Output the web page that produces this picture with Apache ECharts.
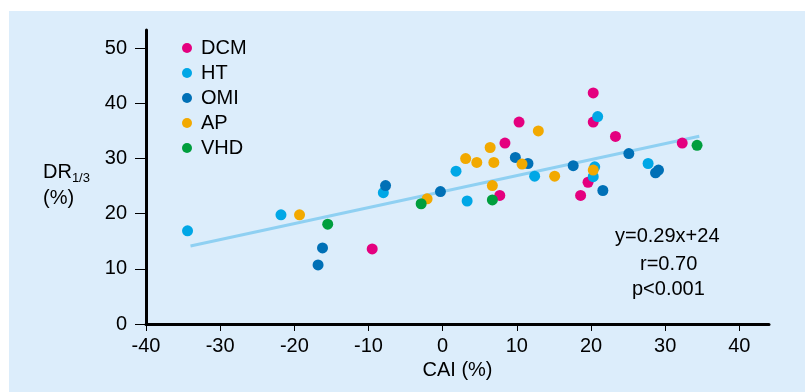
<!DOCTYPE html>
<html>
<head>
<meta charset="utf-8">
<script src="https://cdn.jsdelivr.net/npm/echarts@6/dist/echarts.min.js"></script>
<style>
  html, body { margin: 0; padding: 0; background: #fff; }
  #chart { width: 805px; height: 392px; }
</style>
</head>
<body>
<div id="chart"></div>
<script>
// data: [CAI %, DR1/3 %]
const dcm = [[20.3, 41.9], [20.3, 36.6], [10.3, 36.6], [23.3, 34.0], [8.4, 32.8], [32.3, 32.8],
  [19.6, 25.7], [18.6, 23.3], [7.7, 23.3], [-9.5, 13.6]]
const ht = [[20.9, 37.6], [27.7, 29.1], [20.5, 28.5], [20.3, 26.7], [12.4, 26.8], [1.8, 27.7],
  [3.3, 22.3], [-8.0, 23.8], [-21.8, 19.8], [-34.4, 16.9]]
const omi = [[9.8, 30.2], [11.5, 29.1], [25.1, 30.9], [17.6, 28.7], [29.1, 27.9], [28.7, 27.4],
  [21.6, 24.2], [-0.3, 24.0], [-7.7, 25.1], [-16.2, 13.8], [-16.8, 10.7]]
const ap = [[12.9, 35.0], [6.4, 32.0], [3.1, 30.0], [4.6, 29.3], [6.9, 29.3], [10.7, 29.0],
  [20.3, 27.9], [15.1, 26.8], [6.7, 25.1], [-2.1, 22.7], [-19.3, 19.8]]
const vhd = [[34.3, 32.4], [6.7, 22.5], [-2.9, 21.8], [-15.5, 18.1]]

const seriesNames = ['DCM', 'HT', 'OMI', 'AP', 'VHD']
const seriesColors = ['#e4007f', '#00a7e6', '#0070b6', '#f2a900', '#009e3d']

// regression line y = 0.29x + 24, drawn over the data range
const slope = 0.29
const intercept = 24
const fitX = [-34, 34.6]

const xTicks = [-40, -30, -20, -10, 0, 10, 20, 30, 40]
const yTicks = [0, 10, 20, 30, 40, 50]

const font = 'Liberation Sans, Arial, sans-serif'

const chart = echarts.init(document.getElementById('chart'))

const scatter = [dcm, ht, omi, ap, vhd].map((d, i) => ({
  name: seriesNames[i],
  type: 'scatter',
  data: d,
  symbolSize: 11,
  itemStyle: { color: seriesColors[i], opacity: 1 },
  z: 3
}))

chart.setOption({
  animation: false,
  textStyle: { fontFamily: font },
  graphic: [
    { type: 'rect', z: -10, shape: { x: 9, y: 11, width: 796, height: 381 }, style: { fill: '#dcedfb' } },
    { type: 'text', left: 615, top: 226, style: { text: 'y=0.29x+24', font: '20px ' + font, fill: '#000' } },
    { type: 'text', left: 640, top: 254, style: { text: 'r=0.70', font: '20px ' + font, fill: '#000' } },
    { type: 'text', left: 632, top: 279, style: { text: 'p<0.001', font: '20px ' + font, fill: '#000' } }
  ],
  legend: {
    orient: 'vertical',
    left: 177,
    top: 33,
    icon: 'circle',
    itemWidth: 18,
    itemHeight: 10,
    itemGap: 5,
    data: seriesNames,
    textStyle: { fontSize: 20, color: '#000', fontFamily: font, lineHeight: 20 }
  },
  grid: { left: 146, right: 36, top: 30, bottom: 68 },
  xAxis: {
    type: 'value',
    min: -40,
    max: 44,
    name: 'CAI (%)',
    nameLocation: 'middle',
    nameGap: 35,
    nameTextStyle: { fontSize: 20, color: '#000' },
    splitLine: { show: false },
    axisLine: { onZero: false, lineStyle: { color: '#000', width: 3 } },
    axisTick: { customValues: xTicks, length: 7, lineStyle: { color: '#000', width: 1 } },
    axisLabel: { customValues: xTicks, fontSize: 20, color: '#000', margin: 12 }
  },
  yAxis: {
    type: 'value',
    min: 0,
    max: 53.3,
    name: '{a|DR}{b|1/3}\n{a|(%)}',
    nameLocation: 'middle',
    nameRotate: 0,
    nameGap: 103,
    nameTextStyle: {
      align: 'left',
      padding: [16, 0, 0, 0],
      rich: {
        a: { fontSize: 20, color: '#000', lineHeight: 26, fontFamily: font },
        b: { fontSize: 13, color: '#000', lineHeight: 26, fontFamily: font, verticalAlign: 'bottom' }
      }
    },
    splitLine: { show: false },
    axisLine: { onZero: false, lineStyle: { color: '#000', width: 3 } },
    axisTick: { customValues: yTicks, length: 11, lineStyle: { color: '#000', width: 1 } },
    axisLabel: { customValues: yTicks, fontSize: 20, color: '#000', margin: 19 }
  },
  series: [
    {
      name: 'fit',
      type: 'line',
      data: fitX.map(x => [x, slope * x + intercept]),
      symbol: 'none',
      lineStyle: { color: '#8fd0f2', width: 3 },
      z: 2
    },
    ...scatter
  ]
})
</script>
</body>
</html>
